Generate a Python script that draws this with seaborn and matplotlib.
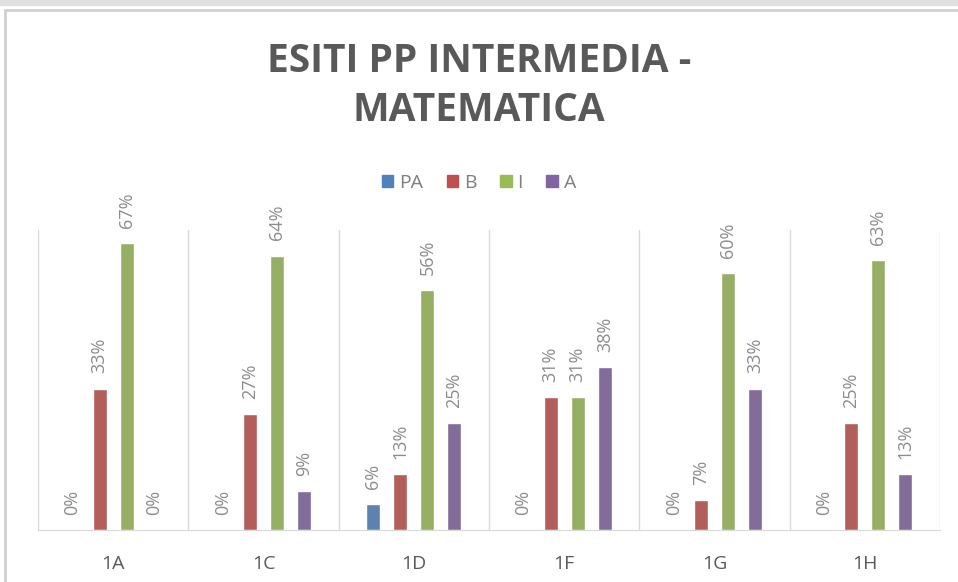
import numpy as np
import pandas as pd
import seaborn as sns
import matplotlib.pyplot as plt
from matplotlib.patches import Rectangle

# data
classes = ["1A", "1C", "1D", "1F", "1G", "1H"]
levels = ["PA", "B", "I", "A"]
pa = [0, 0, 6, 0, 0, 0]
b = [33, 27, 13, 31, 7, 25]
i_ = [67, 64, 56, 31, 60, 63]
a = [0, 9, 25, 38, 33, 13]

colors = ["#4F81BD", "#C0504D", "#9BBB59", "#8064A2"]
gray = "#595959"

df = pd.DataFrame({"classe": classes, "PA": pa, "B": b, "I": i_, "A": a})
df = df.melt(id_vars="classe", var_name="livello", value_name="perc")

sns.set_style("white")
plt.rcParams['font.family'] = ['Open Sans', 'DejaVu Sans']

fig = plt.figure(figsize=(9.58, 5.82), dpi=100)
ax = fig.add_axes([38 / 958, 52 / 582, 902 / 958, 300 / 582])

sns.barplot(data=df, x="classe", y="perc", hue="livello", hue_order=levels,
            palette=colors, width=0.72, gap=0.48, ax=ax, legend=False)

for cont in ax.containers:
    ax.bar_label(cont, fmt="%d%%", rotation=90, padding=11,
                 fontsize=13, color="#8c8c8c")

ax.set_xlim(-0.5, 5.5)
ax.set_ylim(0, 70)
ax.set_yticks([])
ax.set_xticks(range(len(classes)), classes)
ax.set_xticks(np.arange(-0.5, 6, 1), minor=True)
ax.grid(which="minor", axis="x", color="#d9d9d9", linewidth=1)
ax.tick_params(axis="x", which="both", length=0, pad=18, labelsize=14,
               labelcolor=gray)
ax.set_xlabel("")
ax.set_ylabel("")
for s in ["top", "left", "right"]:
    ax.spines[s].set_visible(False)
ax.spines["bottom"].set_color("#d9d9d9")

# legend
handles = [Rectangle((0, 0), 1, 1, color=c) for c in colors]
fig.legend(handles, levels, loc="center", bbox_to_anchor=(0.5, 1 - 183 / 582),
           ncol=4, frameon=False, fontsize=14, labelcolor="#7f7f7f",
           handlelength=0.6, handleheight=0.6, handletextpad=0.3,
           columnspacing=1.2)

fig.text(0.5, 1 - 86 / 582, "ESITI PP INTERMEDIA -\nMATEMATICA", ha="center",
         va="center", fontsize=28, fontweight="bold", color=gray,
         linespacing=1.35)

# frame like the screenshot
fig.patches.append(Rectangle((5 / 958, -0.01), 1, 1 - 10 / 582 + 0.01,
                             transform=fig.transFigure, fill=False,
                             edgecolor="#d0d0d0", linewidth=2))
fig.patches.append(Rectangle((0, 1 - 5 / 582), 1, 5 / 582,
                             transform=fig.transFigure, fill=True,
                             color="#e0e0e0"))

fig.savefig("out.png", dpi=100)
